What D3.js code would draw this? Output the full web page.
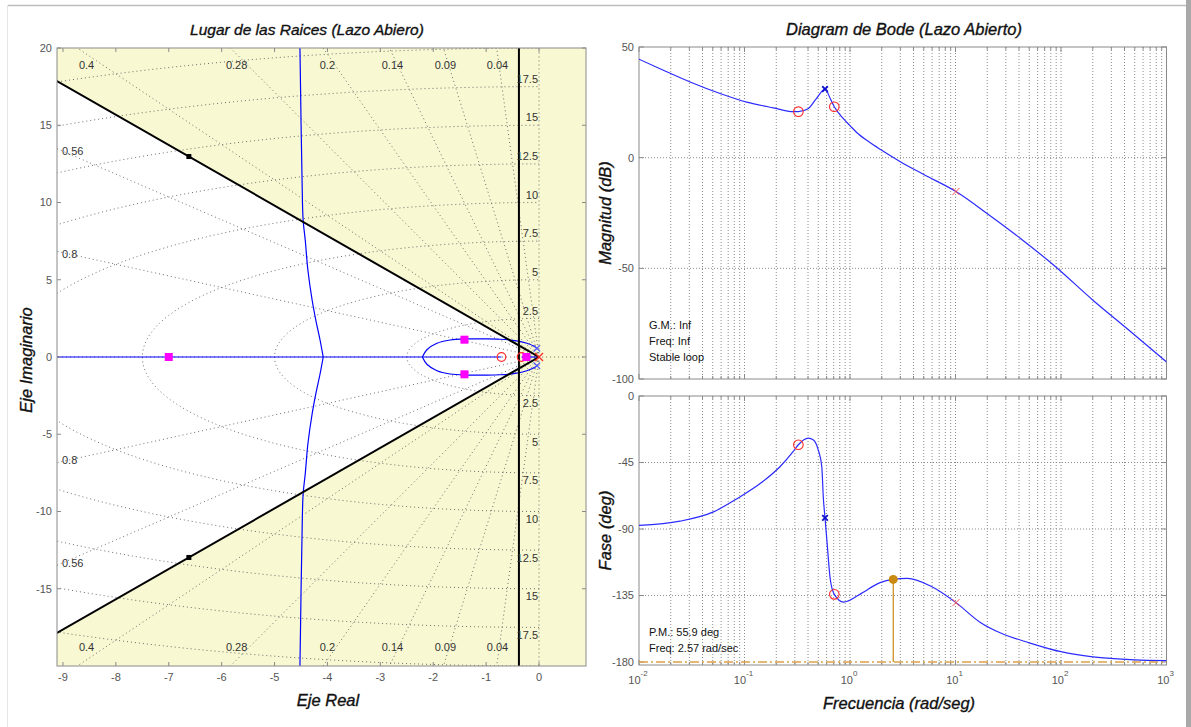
<!DOCTYPE html>
<html>
<head>
<meta charset="utf-8">
<script src="https://cdn.jsdelivr.net/npm/d3@7"></script>
<style>
  body { margin: 0; background: #ffffff; }
  svg { display: block; font-family: "Liberation Sans", Arial, sans-serif; }
</style>
</head>
<body>
<svg id="chart" width="1191" height="727"></svg>
<script>
// ---------------- Root locus (lazo abierto) ----------------
const rlXTicks = [-9, -8, -7, -6, -5, -4, -3, -2, -1, 0];
const rlYTicks = [-15, -10, -5, 0, 5, 10, 15, 20];
const zetaValues = [0.04, 0.09, 0.14, 0.2, 0.28, 0.4, 0.56, 0.8];
const zetaEdgeLabels = [0.04, 0.09, 0.14, 0.2, 0.28, 0.4];
const zetaSideLabels = [0.56, 0.8];
const wnValues = [2.5, 5, 7.5, 10, 12.5, 15, 17.5, 20];
const wnLabels = [2.5, 5, 7.5, 10, 12.5, 15, 17.5];

// design region: damping boundary (|Im|/|Re|) and settling-time boundary
const dampingSlope = 1.96;
const settlingRe = -0.38;
const boundaryHandleRe = -6.62;

// locus branches (upper half, mirrored for the lower half)
const realAxisLocus = [[-9.5, -0.71], [-0.33, 0]];
const loopRe = [-2.206, -2.12, -1.93, -1.68, -1.40, -1.06, -0.74, -0.45, -0.23, -0.08, -0.04];
const loopIm = [0, 0.47, 0.89, 1.10, 1.17, 1.17, 1.15, 1.06, 0.89, 0.67, 0.56];
const branchRe = [-4.08, -4.14, -4.22, -4.29, -4.37, -4.42, -4.46, -4.48, -4.50, -4.52, -4.53];
const branchIm = [0, 1.10, 2.39, 3.69, 5.63, 7.57, 8.87, 11.46, 15.34, 20, 21];

const plantPoles = [[-0.04, 0.56], [-0.04, -0.56]];
const compPoles = [[0, 0]];
const compZeros = [[-0.71, 0], [-0.33, 0]];
const closedLoopPoles = [[-7, 0], [-1.41, 1.12], [-1.41, -1.12], [-0.24, 0]];

// ---------------- Bode (lazo abierto) ----------------
const bodeDecades = [0.01, 0.1, 1, 10, 100, 1000];
const decadeExponents = ["-2", "-1", "0", "1", "2", "3"];
const magTicks = [-100, -50, 0, 50];
const phaseTicks = [-180, -135, -90, -45, 0];

const magFreq = [0.01, 0.017, 0.0305, 0.0587, 0.105, 0.188, 0.29, 0.324, 0.40, 0.48, 0.58, 0.65, 0.71,
                 0.87, 1.0, 1.15, 1.5, 1.93, 3.0, 5.0, 10.1, 19.9, 41.3, 85, 202, 419, 1000];
const magDb = [44.5, 39.5, 34.2, 29.0, 25.1, 22.5, 20.8, 20.8, 22.1, 26.7, 31.0, 26.7, 23.0,
               17.5, 14.5, 11.5, 7.3, 3.8, -1.8, -7.6, -15.3, -25.2, -36.5, -48.5, -64.5, -77.1, -92.3];

const phaseFreq = [0.01, 0.0245, 0.0508, 0.0870, 0.146, 0.218, 0.29, 0.324, 0.402, 0.45, 0.50, 0.54, 0.56,
                   0.58, 0.61, 0.65, 0.71, 0.87, 1.24, 1.93, 2.57, 3.5, 5.8, 10.1, 17.2, 26.8, 50, 100,
                   200, 500, 1000];
const phaseDeg = [-87.6, -84.7, -78.4, -69.0, -58.4, -47.7, -37.5, -33.0, -28.5, -29.7, -36.4, -47.7, -70.0,
                  -82.5, -101.6, -124.0, -134.2, -139.4, -134.2, -126.3, -124.1, -123.4, -128.6, -139.8, -153.2,
                  -160.4, -167.0, -173.0, -176.5, -178.5, -179.0];

const compZeroFreq = [0.324, 0.71];
const compZeroMag = [20.8, 23.0];
const compZeroPhase = [-33.0, -134.2];
const plantPoleFreq = [0.58];
const plantPoleMag = [31.0];
const plantPolePhase = [-82.5];
const compPoleFreq = [10.1];
const compPoleMag = [-15.3];
const compPolePhase = [-139.8];

const pmFreq = 2.57;
const pmDeg = 55.9;
const gmText = ["G.M.: Inf", "Freq: Inf", "Stable loop"];
const pmText = ["P.M.: 55.9 deg", "Freq: 2.57 rad/sec"];

// ---------------- drawing ----------------
const svg = d3.select("#chart");
const defs = svg.append("defs");

const axisGray = "#8a8a8a";
const tickText = "#555555";
const locusBlue = "#0000ff";
const bodeBlue = "#2b2bff";
const markRed = "#ff2a2a";
const pmOrange = "#c98a10";

// heavier italic text for titles and axis names
const heading = (sel, size) => sel.attr("font-size", size).attr("font-style", "italic")
  .attr("fill", "#111").attr("stroke", "#111").attr("stroke-width", 0.35);

// window frame
svg.append("line").attr("x1", 8).attr("x2", 1186).attr("y1", 5.5).attr("y2", 5.5)
  .attr("stroke", "#bdbdbd").attr("stroke-width", 1.5);
svg.append("line").attr("x1", 7.5).attr("x2", 7.5).attr("y1", 5).attr("y2", 727)
  .attr("stroke", "#e6e6e6").attr("stroke-width", 1);
svg.append("rect").attr("x", 1186).attr("y", 0).attr("width", 5).attr("height", 727).attr("fill", "#a9a9a9");

// ===== Root locus panel =====
const RL = { left: 57, right: 586, top: 48, bottom: 666 };
const xR = d3.scaleLinear().domain([-9.113, 0.888]).range([RL.left, RL.right]);
const yR = d3.scaleLinear().domain([-20, 20]).range([RL.bottom, RL.top]);
const lineR = d3.line().x(d => xR(d[0])).y(d => yR(d[1]));
const smoothR = d3.line().x(d => xR(d[0])).y(d => yR(d[1])).curve(d3.curveCatmullRom.alpha(0.5));

defs.append("clipPath").attr("id", "rlClip").append("rect")
  .attr("x", RL.left).attr("y", RL.top).attr("width", RL.right - RL.left).attr("height", RL.bottom - RL.top);

const rl = svg.append("g");
const plot = rl.append("g").attr("clip-path", "url(#rlClip)");

// constraint shading: yellow outside the allowed wedge
plot.append("rect").attr("x", RL.left).attr("y", RL.top)
  .attr("width", RL.right - RL.left).attr("height", RL.bottom - RL.top).attr("fill", "#f8f8d2");
const farRe = -14;
const wedge = [[settlingRe, -dampingSlope * settlingRe], [farRe, -dampingSlope * farRe],
               [farRe, dampingSlope * farRe], [settlingRe, dampingSlope * settlingRe]];
plot.append("path").attr("d", lineR(wedge) + "Z").attr("fill", "#ffffff");

// s-plane grid: damping rays and natural-frequency circles
const gridStyle = sel => sel.attr("fill", "none").attr("stroke", "#6e6e6e")
  .attr("stroke-width", 1).attr("stroke-dasharray", "1,3");
zetaValues.forEach(z => {
  const t = Math.sqrt(1 - z * z) / z;
  [1, -1].forEach(s => {
    plot.append("path").attr("d", lineR([[0, 0], [-30, s * 30 * t]])).call(gridStyle);
  });
});
wnValues.forEach(r => {
  const pts = d3.range(-90, 90.5, 1).map(a => {
    const th = a * Math.PI / 180;
    return [-r * Math.cos(th), r * Math.sin(th)];
  });
  plot.append("path").attr("d", lineR(pts)).call(gridStyle);
});
plot.append("path").attr("d", lineR([[-10, 0], [1, 0]])).call(gridStyle);
plot.append("path").attr("d", lineR([[0, -21], [0, 21]])).call(gridStyle);

// root locus branches
const locusStyle = sel => sel.attr("fill", "none").attr("stroke", locusBlue).attr("stroke-width", 1.2);
realAxisLocus.forEach(seg => {
  plot.append("path").attr("d", lineR([[seg[0], 0], [seg[1], 0]])).call(locusStyle);
});
[1, -1].forEach(s => {
  plot.append("path").attr("d", smoothR(loopRe.map((x, i) => [x, s * loopIm[i]]))).call(locusStyle);
  plot.append("path").attr("d", smoothR(branchRe.map((x, i) => [x, s * branchIm[i]]))).call(locusStyle);
});

// design boundaries
[1, -1].forEach(s => {
  plot.append("path").attr("d", lineR([[0, 0], [farRe, -s * dampingSlope * farRe]]))
    .attr("stroke", "#000").attr("stroke-width", 2).attr("fill", "none");
  plot.append("rect")
    .attr("x", xR(boundaryHandleRe) - 2.5).attr("y", yR(-s * dampingSlope * boundaryHandleRe) - 2.5)
    .attr("width", 5).attr("height", 5).attr("fill", "#000");
});
plot.append("path").attr("d", lineR([[settlingRe, -21], [settlingRe, 21]]))
  .attr("stroke", "#000").attr("stroke-width", 2);

// grid labels
const gridLabel = (x, y, txt, anchor) => rl.append("text")
  .attr("x", x).attr("y", y).attr("dy", "0.35em").attr("text-anchor", anchor)
  .attr("font-size", 11).attr("fill", "#333").text(txt);
zetaEdgeLabels.forEach(z => {
  const t = Math.sqrt(1 - z * z) / z;
  [18.9, -18.8].forEach(yv => gridLabel(xR(-19.6 / t), yR(yv), String(z), "middle"));
});
zetaSideLabels.forEach(z => {
  const t = Math.sqrt(1 - z * z) / z;
  const yEdge = -xR.domain()[0] * t;
  [1, -1].forEach(s => gridLabel(RL.left + 5, yR(s * yEdge) + s * 2.5, String(z), "start"));
});
wnLabels.forEach(w => {
  [1, -1].forEach(s => gridLabel(xR(0) - 1, yR(s * (w + 0.5)), String(w), "end"));
});

// poles, zeros and closed-loop poles
const xMark = (g, cx, cy, r, color, w) => {
  g.append("path").attr("d", `M${cx - r},${cy - r}L${cx + r},${cy + r}M${cx - r},${cy + r}L${cx + r},${cy - r}`)
    .attr("stroke", color).attr("stroke-width", w).attr("fill", "none");
};
compZeros.forEach(p => plot.append("circle").attr("cx", xR(p[0])).attr("cy", yR(p[1])).attr("r", 4.3)
  .attr("fill", "none").attr("stroke", markRed).attr("stroke-width", 1.2));
plantPoles.forEach(p => xMark(plot, xR(p[0]), yR(p[1]), 3.2, "#5a5aff", 1.2));
compPoles.forEach(p => xMark(plot, xR(p[0]), yR(p[1]), 4, markRed, 1.3));
closedLoopPoles.forEach(p => plot.append("rect")
  .attr("x", xR(p[0]) - 4).attr("y", yR(p[1]) - 4).attr("width", 8).attr("height", 8).attr("fill", "#ff00ff"));

// axes box, ticks and labels
rl.append("rect").attr("x", RL.left).attr("y", RL.top).attr("width", RL.right - RL.left)
  .attr("height", RL.bottom - RL.top).attr("fill", "none").attr("stroke", axisGray).attr("stroke-width", 1);
rlXTicks.forEach(v => {
  const x = xR(v);
  rl.append("line").attr("x1", x).attr("x2", x).attr("y1", RL.bottom).attr("y2", RL.bottom - 4).attr("stroke", axisGray);
  rl.append("line").attr("x1", x).attr("x2", x).attr("y1", RL.top).attr("y2", RL.top + 4).attr("stroke", axisGray);
  rl.append("text").attr("x", x).attr("y", RL.bottom + 15).attr("text-anchor", "middle")
    .attr("font-size", 11).attr("fill", tickText).text(v);
});
rlYTicks.forEach(v => {
  const y = yR(v);
  rl.append("line").attr("x1", RL.left).attr("x2", RL.left + 4).attr("y1", y).attr("y2", y).attr("stroke", axisGray);
  rl.append("line").attr("x1", RL.right).attr("x2", RL.right - 4).attr("y1", y).attr("y2", y).attr("stroke", axisGray);
  rl.append("text").attr("x", RL.left - 5).attr("y", y).attr("dy", "0.35em").attr("text-anchor", "end")
    .attr("font-size", 11).attr("fill", tickText).text(v);
});
rl.append("text").attr("x", 307).attr("y", 35).attr("text-anchor", "middle").call(heading, 15.5)
  .text("Lugar de las Raices (Lazo Abiero)");
rl.append("text").attr("x", 328).attr("y", 706).attr("text-anchor", "middle").call(heading, 16.5)
  .text("Eje Real");
rl.append("text").attr("transform", "translate(32,360) rotate(-90)").attr("text-anchor", "middle")
  .call(heading, 16.5).text("Eje Imaginario");

// ===== Bode panel =====
const BX = { left: 639, right: 1166.5 };
const MAG = { top: 47, bottom: 379 };
const PH = { top: 396, bottom: 665 };
const xB = d3.scaleLog().domain([0.01, 1000]).range([BX.left, BX.right]);
const yM = d3.scaleLinear().domain([-100, 50]).range([MAG.bottom, MAG.top]);
const yP = d3.scaleLinear().domain([-182, 0]).range([PH.bottom, PH.top]);

const minorFreqs = [];
bodeDecades.slice(0, -1).forEach(d => { for (let k = 2; k <= 9; k++) minorFreqs.push(d * k); });

function bodeAxes(g, yS, box, ticks, gridTicks, clipId) {
  g.append("rect").attr("x", BX.left).attr("y", box.top).attr("width", BX.right - BX.left)
    .attr("height", box.bottom - box.top).attr("fill", "#fff");
  const grid = g.append("g").attr("fill", "none").attr("stroke", "#8c8c8c")
    .attr("stroke-width", 1).attr("stroke-dasharray", "1,2");
  bodeDecades.concat(minorFreqs).forEach(f => {
    if (f <= 0.01 || f >= 1000) return;
    grid.append("line").attr("x1", xB(f)).attr("x2", xB(f)).attr("y1", box.top).attr("y2", box.bottom);
  });
  gridTicks.forEach(v => grid.append("line").attr("x1", BX.left).attr("x2", BX.right)
    .attr("y1", yS(v)).attr("y2", yS(v)));
  g.append("rect").attr("x", BX.left).attr("y", box.top).attr("width", BX.right - BX.left)
    .attr("height", box.bottom - box.top).attr("fill", "none").attr("stroke", axisGray);
  bodeDecades.forEach(f => {
    [[box.bottom, -5], [box.top, 5]].forEach(([y0, d]) => g.append("line")
      .attr("x1", xB(f)).attr("x2", xB(f)).attr("y1", y0).attr("y2", y0 + d).attr("stroke", axisGray));
  });
  minorFreqs.forEach(f => {
    [[box.bottom, -3], [box.top, 3]].forEach(([y0, d]) => g.append("line")
      .attr("x1", xB(f)).attr("x2", xB(f)).attr("y1", y0).attr("y2", y0 + d).attr("stroke", axisGray));
  });
  ticks.forEach(v => {
    const y = yS(v);
    g.append("line").attr("x1", BX.left).attr("x2", BX.left + 5).attr("y1", y).attr("y2", y).attr("stroke", axisGray);
    g.append("line").attr("x1", BX.right).attr("x2", BX.right - 5).attr("y1", y).attr("y2", y).attr("stroke", axisGray);
    g.append("text").attr("x", BX.left - 5).attr("y", y).attr("dy", "0.35em").attr("text-anchor", "end")
      .attr("font-size", 11).attr("fill", tickText).text(v);
  });
  defs.append("clipPath").attr("id", clipId).append("rect")
    .attr("x", BX.left).attr("y", box.top).attr("width", BX.right - BX.left).attr("height", box.bottom - box.top);
}

// magnitude
const gm = svg.append("g");
bodeAxes(gm, yM, MAG, magTicks, [-50, 0], "magClip");
const magLine = d3.line().x(d => xB(d[0])).y(d => yM(d[1])).curve(d3.curveMonotoneX);
gm.append("path").attr("clip-path", "url(#magClip)")
  .attr("d", magLine(magFreq.map((f, i) => [f, magDb[i]])))
  .attr("fill", "none").attr("stroke", bodeBlue).attr("stroke-width", 1.2);
compZeroFreq.forEach((f, i) => gm.append("circle").attr("cx", xB(f)).attr("cy", yM(compZeroMag[i])).attr("r", 4.8)
  .attr("fill", "none").attr("stroke", markRed).attr("stroke-width", 1.1));
plantPoleFreq.forEach((f, i) => xMark(gm, xB(f), yM(plantPoleMag[i]), 2.8, "#1010d0", 1.8));
compPoleFreq.forEach((f, i) => xMark(gm, xB(f), yM(compPoleMag[i]), 3.5, "#ff4a4a", 1));
gmText.forEach((t, i) => gm.append("text").attr("x", 649).attr("y", 329 + i * 16)
  .attr("font-size", 11).attr("fill", "#111").text(t));
gm.append("text").attr("x", 904).attr("y", 35).attr("text-anchor", "middle").call(heading, 16.5)
  .text("Diagram de Bode (Lazo Abierto)");
gm.append("text").attr("transform", `translate(611,${(MAG.top + MAG.bottom) / 2}) rotate(-90)`)
  .attr("text-anchor", "middle").call(heading, 16.5).text("Magnitud (dB)");

// phase
const gp = svg.append("g");
bodeAxes(gp, yP, PH, phaseTicks, [-135, -90, -45], "phClip");
const pmPhase = -180 + pmDeg;
gp.append("path").attr("d", `M${BX.left},${yP(-180)}H${BX.right}`)
  .attr("stroke", "#dba24a").attr("stroke-width", 1.5).attr("stroke-dasharray", "9,3,2,3");
gp.append("line").attr("x1", xB(pmFreq)).attr("x2", xB(pmFreq)).attr("y1", yP(pmPhase)).attr("y2", yP(-180))
  .attr("stroke", pmOrange).attr("stroke-width", 1.2);
const phLine = d3.line().x(d => xB(d[0])).y(d => yP(d[1])).curve(d3.curveMonotoneX);
gp.append("path").attr("clip-path", "url(#phClip)")
  .attr("d", phLine(phaseFreq.map((f, i) => [f, phaseDeg[i]])))
  .attr("fill", "none").attr("stroke", bodeBlue).attr("stroke-width", 1.2);
gp.append("circle").attr("cx", xB(pmFreq)).attr("cy", yP(pmPhase)).attr("r", 4.5).attr("fill", pmOrange);
compZeroFreq.forEach((f, i) => gp.append("circle").attr("cx", xB(f)).attr("cy", yP(compZeroPhase[i])).attr("r", 4.8)
  .attr("fill", "none").attr("stroke", markRed).attr("stroke-width", 1.1));
plantPoleFreq.forEach((f, i) => xMark(gp, xB(f), yP(plantPolePhase[i]), 2.8, "#1010d0", 1.8));
compPoleFreq.forEach((f, i) => xMark(gp, xB(f), yP(compPolePhase[i]), 3.5, "#ff4a4a", 1));
pmText.forEach((t, i) => gp.append("text").attr("x", 649).attr("y", 636 + i * 16)
  .attr("font-size", 11).attr("fill", "#111").text(t));
bodeDecades.forEach((f, i) => {
  const t = gp.append("text").attr("x", xB(f) - 1).attr("y", 684).attr("text-anchor", "middle")
    .attr("fill", tickText);
  t.append("tspan").attr("font-size", 11).text("10");
  t.append("tspan").attr("font-size", 8).attr("dy", -8).text(decadeExponents[i]);
});
gp.append("text").attr("transform", `translate(611,${(PH.top + PH.bottom) / 2}) rotate(-90)`)
  .attr("text-anchor", "middle").call(heading, 16.5).text("Fase (deg)");
gp.append("text").attr("x", 899).attr("y", 709).attr("text-anchor", "middle").call(heading, 16.5)
  .text("Frecuencia (rad/seg)");
</script>
</body>
</html>
